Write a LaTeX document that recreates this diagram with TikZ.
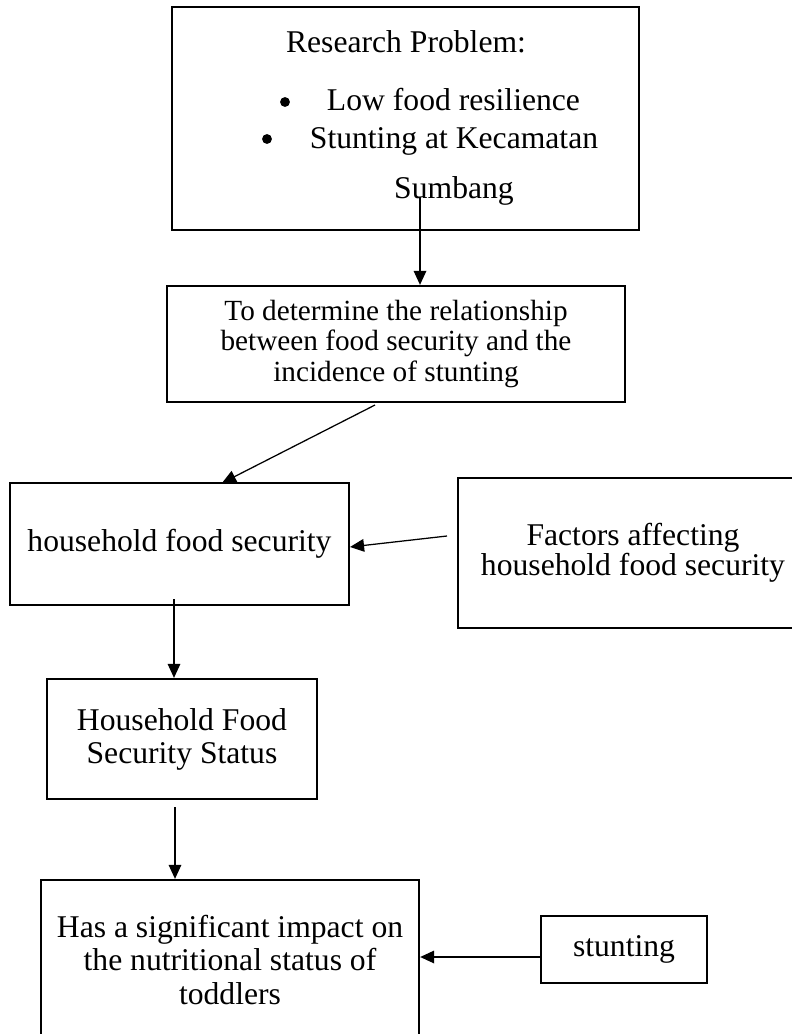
\documentclass[tikz,border=0pt]{standalone}
\usepackage{fontspec}
\setmainfont{Liberation Serif}
\usetikzlibrary{arrows.meta, positioning}

\tikzset{
  box/.style={draw, line width=1.6pt, align=center, inner sep=0pt, font=\fontsize{22.5}{23.5}\selectfont},
  flow/.style={-{Triangle[length=10pt,width=9pt]}, line width=0.9pt},
  line/.style={anchor=base, inner sep=0pt, font=\fontsize{22.5}{23.5}\selectfont},
  dot/.style={circle, fill, inner sep=0pt, minimum size=7pt}
}

\begin{document}
\begin{tikzpicture}[x=0.025cm, y=-0.025cm]
    \useasboundingbox (0,0) rectangle (791,1034);
    \node[box, minimum width=11.675cm, minimum height=5.575cm] (problem) at (405.5,118.5) {};
    \node[line] (title) at (406,52) {Research Problem:};
    \node[dot] (dot1) at (285,102) {};
    \node[line] (item1) at (453.5,110) {Low food resilience};
    \node[dot] (dot2) at (267,139) {};
    \node[line] (item2) at (454,148) {Stunting at Kecamatan};
    \node[line] (item2b) at (454,198) {Sumbang};
    \node[box, minimum width=11.45cm, minimum height=2.9cm, font=\fontsize{20.8}{22}\selectfont] (goal) at (396,344)
        {To determine the relationship\\between food security and the\\incidence of stunting};
    \node[box, minimum width=8.475cm, minimum height=3.05cm] (hfs) at (179.5,544) {household food security};
    \node[box, minimum width=8.75cm, minimum height=3.75cm, font=\fontsize{22.5}{21.5}\selectfont] (factors) at (633,553)
        {Factors affecting\\household food security};
    \node[box, minimum width=6.75cm, minimum height=3cm] (status) at (182,739) {Household Food\\Security Status};
    \node[box, minimum width=9.45cm, minimum height=4cm] (impact) at (230,960)
        {Has a significant impact on\\the nutritional status of\\toddlers};
    \node[box, minimum width=4.15cm, minimum height=1.675cm] (stunting) at (624,949.5) {stunting};
    \coordinate (from1) at (420,197);
    \coordinate (from2) at (375,405);
    \coordinate (to2) at (222,483);
    \coordinate (from3) at (447,536);
    \coordinate (to3) at (350,547);
    \coordinate (from4) at (174,599);
    \coordinate (from5) at (175,807);
    \coordinate (from6) at (541,957);
    \draw[flow] (from1) -- (from1 |- goal.north);
    \draw[flow] (from2) -- (to2);
    \draw[flow] (from3) -- (to3);
    \draw[flow] (from4) -- (from4 |- status.north);
    \draw[flow] (from5) -- (from5 |- impact.north);
    \draw[flow] (from6) -- (from6 -| impact.east);
\end{tikzpicture}
\end{document}
